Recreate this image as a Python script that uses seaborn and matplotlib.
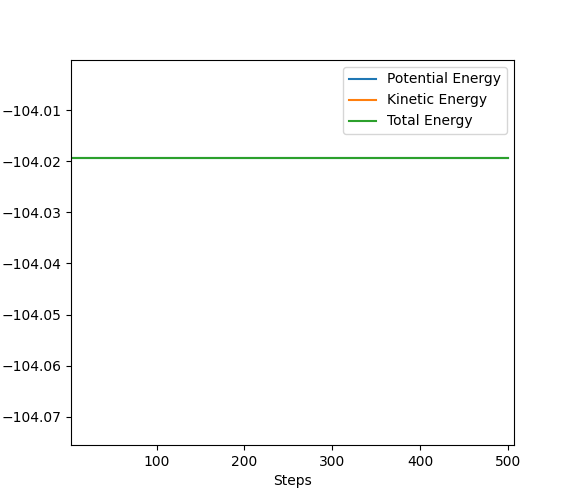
import numpy as np
import pandas as pd
import seaborn as sns
import matplotlib
matplotlib.use('Agg')
import matplotlib.pyplot as plt

# energies (flat over all steps)
steps = [1, 100, 200, 300, 400, 500]
potential_energy = [-104.0194, -104.0194, -104.0194, -104.0194, -104.0194, -104.0194]
kinetic_energy = [0.0, 0.0, 0.0, 0.0, 0.0, 0.0]
total_energy = [-104.0194, -104.0194, -104.0194, -104.0194, -104.0194, -104.0194]

df = pd.DataFrame({'Steps': steps,
                   'Potential Energy': potential_energy,
                   'Kinetic Energy': kinetic_energy,
                   'Total Energy': total_energy})

fig, ax = plt.subplots(figsize=(5.71, 5.0), dpi=100)
sns.lineplot(data=df, x='Steps', y='Potential Energy', label='Potential Energy', ax=ax)
sns.lineplot(data=df, x='Steps', y='Kinetic Energy', label='Kinetic Energy', ax=ax)
sns.lineplot(data=df, x='Steps', y='Total Energy', label='Total Energy', ax=ax)
ax.set_xlim(3.1, 506.5)
ax.set_ylim(-104.0755, -104.0002)
ax.ticklabel_format(axis='y', useOffset=False)
ax.set_xlabel('Steps')
ax.set_ylabel('')
ax.legend(loc='upper right')
fig.savefig('out.png', dpi=100)
